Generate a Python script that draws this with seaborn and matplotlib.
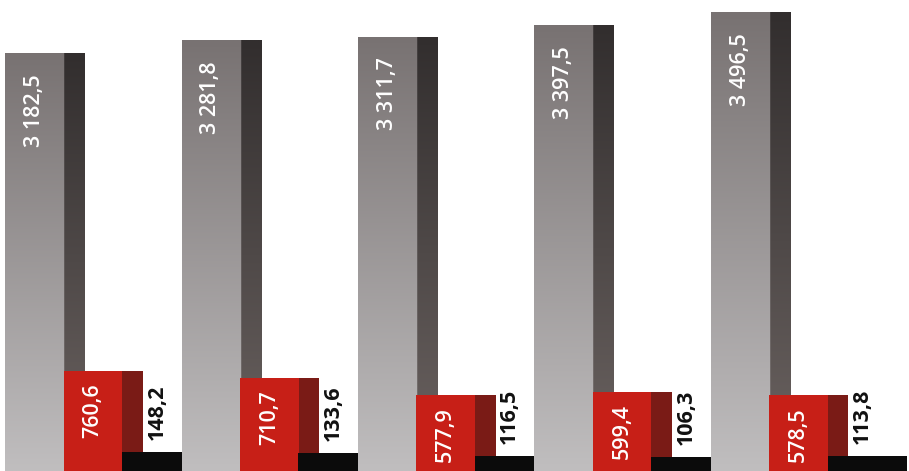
import numpy as np
import pandas as pd
import matplotlib
matplotlib.use("Agg")
import matplotlib.pyplot as plt
import seaborn as sns
from matplotlib.patches import Rectangle

# ---- data ----
groups = ["1", "2", "3", "4", "5"]
series = ["grey", "red", "black"]
grey_values = [3182.5, 3281.8, 3311.7, 3397.5, 3496.5]
red_values = [760.6, 710.7, 577.9, 599.4, 578.5]
black_values = [148.2, 133.6, 116.5, 106.3, 113.8]

palette = {"grey": "#8e8a8a", "red": "#c71f17", "black": "#0b0b0b"}
strip_colors = {"grey": None, "red": "#7a1b16", "black": "#0b0b0b"}


def fmt(v):
    return f"{v:,.1f}".replace(",", " ").replace(".", ",")


df = pd.DataFrame({
    "group": groups * 3,
    "series": [s for s in series for _ in groups],
    "value": grey_values + red_values + black_values,
})

sns.set_style("white")
plt.rcParams["font.family"] = ["Open Sans", "DejaVu Sans"]

fig = plt.figure(figsize=(9.09, 4.71), dpi=100)
ax = fig.add_axes([0, 0, 1, 1])

sns.barplot(data=df, x="group", y="value", hue="series", hue_order=series,
            order=groups, palette=palette, width=0.994, dodge=True,
            saturation=1, legend=False, ax=ax, edgecolor="none")

XMIN, XMAX = -0.584, 4.567
YMAX = 3590
px_y = YMAX / 471.0          # data units per pixel (vertical)
W = 0.448                    # widened bar width (data units)
STRIP = 0.26                 # share of bar width that is the dark side


def grey_image(n=200):
    t = np.linspace(0, 1, n)[:, None]  # 0 top, 1 bottom
    main_top, main_bot = np.array([120, 114, 114]) / 255, np.array([192, 190, 191]) / 255
    dark_top, dark_bot = np.array([50, 46, 46]) / 255, np.array([108, 100, 98]) / 255
    main = main_top + (main_bot - main_top) * t
    dark = dark_top + (dark_bot - dark_top) * t
    cols = 100
    split = int(cols * (1 - STRIP))
    img = np.zeros((n, cols, 3))
    img[:, :split, :] = main[:, None, :]
    img[:, split:, :] = dark[:, None, :]
    return img


gimg = grey_image()

for h, (name, cont) in enumerate(zip(series, ax.containers)):
    for g, bar in enumerate(cont):
        cx = bar.get_x() + bar.get_width() / 2
        left = cx - W / 2
        bar.set_x(left)
        bar.set_width(W)
        z = 2 + g * 3 + h
        bar.set_zorder(z)
        top = bar.get_height()
        if name == "grey":
            im = ax.imshow(gimg, extent=(left, left + W, 0, top), aspect="auto",
                           origin="upper", zorder=z + 0.1, interpolation="bilinear")
            im.set_clip_path(bar)
        elif name == "red":
            ax.add_patch(Rectangle((left + W * (1 - STRIP), 0), W * STRIP, top,
                                   facecolor=strip_colors[name], edgecolor="none",
                                   zorder=z + 0.1))
        v = top
        if name == "grey":
            ax.text(left + 0.37 * W, v - 21 * px_y, fmt(v), rotation=90,
                    ha="center", va="top", color="white", fontsize=15.5,
                    fontweight="semibold", zorder=z + 0.5)
        elif name == "red":
            ax.text(left + 0.37 * W, v - 12 * px_y, fmt(v), rotation=90,
                    ha="center", va="top", color="white", fontsize=15.5,
                    fontweight="semibold", zorder=z + 0.5)
        else:
            ax.text(left + 0.44 * W, v + 12 * px_y, fmt(v), rotation=90,
                    ha="center", va="bottom", color="#111111", fontsize=15.5,
                    fontweight="bold", zorder=z + 0.5)

ax.set_xlim(XMIN, XMAX)
ax.set_ylim(0, YMAX)
ax.axis("off")

fig.savefig("out.png", dpi=100, facecolor="white")
